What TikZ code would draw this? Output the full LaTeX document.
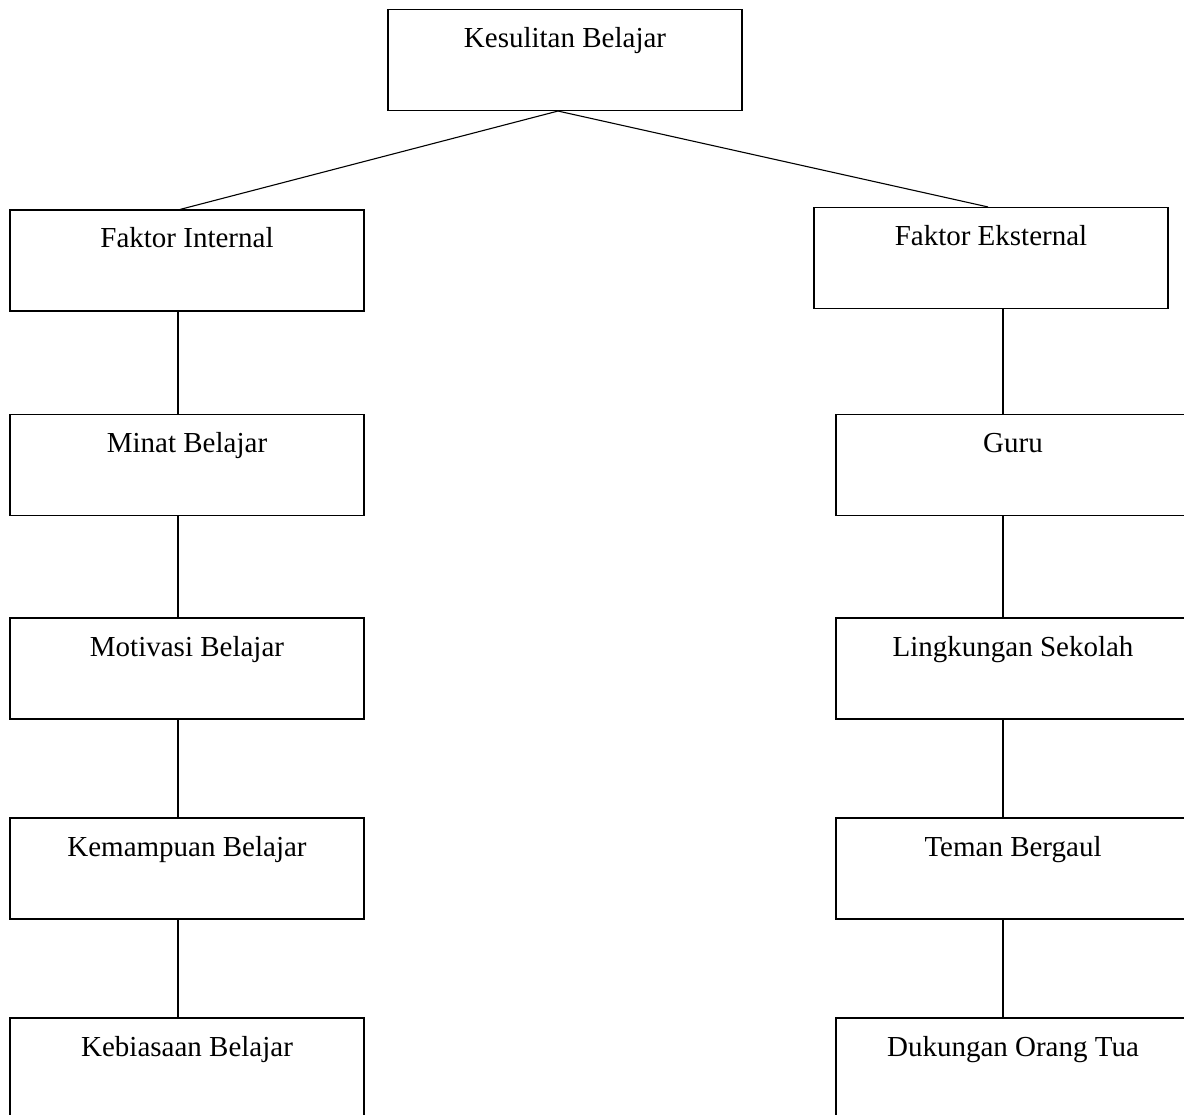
\documentclass[tikz,border=0pt]{standalone}
\usepackage{fontspec}
\setmainfont{Liberation Serif}
\usetikzlibrary{positioning}

\tikzset{
  kotak/.style={draw, line width=1.1pt, rectangle, minimum width=354pt,
    inner xsep=0pt, inner ysep=0pt, text height=38pt, text depth=63pt,
    font=\fontsize{29}{34}\selectfont},
  garis/.style={line width=1.1pt}
}

\begin{document}
\begin{tikzpicture}[x=1pt, y=-1pt]

    % Frame of the picture
    \clip (0,0) rectangle (1184,1115);

    % Top box
    \node[kotak] (kesulitan) at (565, 60) {Kesulitan Belajar};

    % Left side (internal factors)
    \node[kotak] (internal) at (187, 260.5) {Faktor Internal};
    \node[kotak] (minat) at (187, 465) {Minat Belajar};
    \node[kotak] (motivasi) at (187, 668.5) {Motivasi Belajar};
    \node[kotak] (kemampuan) at (187, 868.5) {Kemampuan Belajar};
    \node[kotak] (kebiasaan) at (187, 1068.5) {Kebiasaan Belajar};

    % Right side (external factors)
    \node[kotak] (eksternal) at (991, 258) {Faktor Eksternal};
    \node[kotak] (guru) at (1013, 465) {Guru};
    \node[kotak] (lingkungan) at (1013, 668.5) {Lingkungan Sekolah};
    \node[kotak] (teman) at (1013, 868.5) {Teman Bergaul};
    \node[kotak] (dukungan) at (1013, 1068.5) {Dukungan Orang Tua};

    % Branches from the top
    \draw[garis] ([xshift=-7pt]kesulitan.south) -- ([xshift=-7pt]internal.north);
    \draw[garis] ([xshift=-7pt]kesulitan.south) -- ([xshift=-3pt]eksternal.north);

    % Left chain
    \draw[garis] ([xshift=-9pt]internal.south) -- ([xshift=-9pt]minat.north);
    \draw[garis] ([xshift=-9pt]minat.south) -- ([xshift=-9pt]motivasi.north);
    \draw[garis] ([xshift=-9pt]motivasi.south) -- ([xshift=-9pt]kemampuan.north);
    \draw[garis] ([xshift=-9pt]kemampuan.south) -- ([xshift=-9pt]kebiasaan.north);

    % Right chain
    \draw[garis] ([xshift=12pt]eksternal.south) -- ([xshift=-10pt]guru.north);
    \draw[garis] ([xshift=-10pt]guru.south) -- ([xshift=-10pt]lingkungan.north);
    \draw[garis] ([xshift=-10pt]lingkungan.south) -- ([xshift=-10pt]teman.north);
    \draw[garis] ([xshift=-10pt]teman.south) -- ([xshift=-10pt]dukungan.north);

\end{tikzpicture}
\end{document}
